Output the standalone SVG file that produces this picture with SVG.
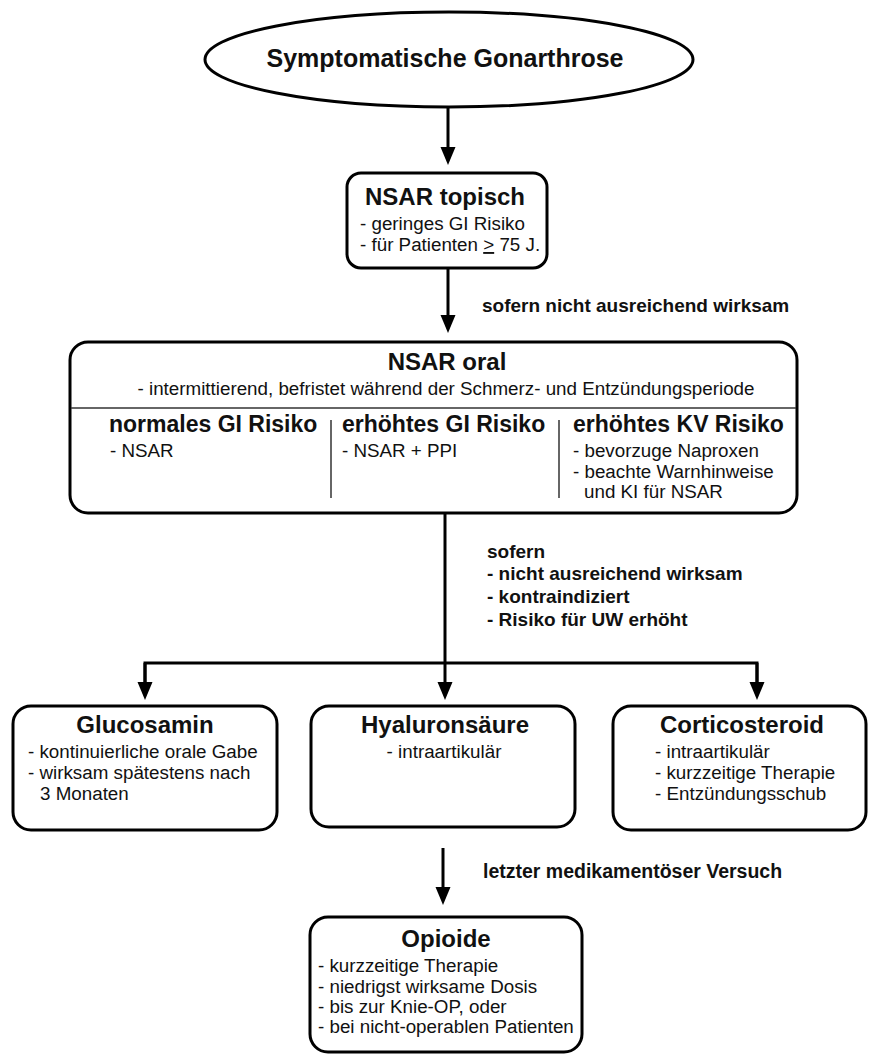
<svg xmlns="http://www.w3.org/2000/svg" width="869" height="1055" viewBox="0 0 869 1055">
<style>
.box{fill:#fff;stroke:#000;stroke-width:3}
.conn{fill:none;stroke:#000;stroke-width:3}
.thin{fill:none;stroke:#333;stroke-width:1.5}
text{font-family:"Liberation Sans",Arial,sans-serif;fill:#111}
.t{font-size:24px;font-weight:bold}
.h{font-size:23px;font-weight:bold}
.r{font-size:18.8px}
.l{font-size:19px;font-weight:bold}
.c{text-anchor:middle}
</style>
<defs>
<marker id="ah" markerUnits="userSpaceOnUse" markerWidth="20" markerHeight="16" refX="8" refY="7.5" orient="auto">
<path d="M0,0 L18,7.5 L0,15 Z" fill="#000"/>
</marker>
</defs>
<rect width="869" height="1055" fill="#fff"/>

<g id="connectors">
<line class="conn" x1="448" y1="107" x2="448" y2="155" marker-end="url(#ah)"/>
<line class="conn" x1="448" y1="268" x2="448" y2="323" marker-end="url(#ah)"/>
<polyline class="conn" points="445,513 445,663"/>
<polyline class="conn" points="145,690 145,663 757,663 757,690"/>
<line class="conn" x1="145" y1="663" x2="145" y2="690" marker-end="url(#ah)"/>
<line class="conn" x1="445" y1="663" x2="445" y2="690" marker-end="url(#ah)"/>
<line class="conn" x1="757" y1="663" x2="757" y2="690" marker-end="url(#ah)"/>
<line class="conn" x1="443" y1="848" x2="443" y2="895" marker-end="url(#ah)"/>
<text class="l" x="482" y="312">sofern nicht ausreichend wirksam</text>
<text class="l" x="487" y="558">sofern</text>
<text class="l" x="487" y="580">- nicht ausreichend wirksam</text>
<text class="l" x="487" y="603">- kontraindiziert</text>
<text class="l" x="487" y="626">- Risiko für UW erhöht</text>
<text class="l" x="483" y="878" style="font-size:19.5px">letzter medikamentöser Versuch</text>
</g>

<g id="start">
<ellipse class="box" cx="449" cy="59.5" rx="244" ry="47.5"/>
<text class="c" x="445" y="67" style="font-size:25px;font-weight:bold">Symptomatische Gonarthrose</text>
</g>

<g id="nsar-topisch">
<rect class="box" x="347" y="173" width="200" height="95" rx="14"/>
<text class="t c" x="445" y="205">NSAR topisch</text>
<text class="r" x="360" y="230">- geringes GI Risiko</text>
<text class="r" x="360" y="251">- für Patienten <tspan text-decoration="underline">&gt;</tspan> 75 J.</text>
</g>

<g id="nsar-oral">
<rect class="box" x="70" y="342" width="727" height="171" rx="18"/>
<text class="t c" x="447" y="370">NSAR oral</text>
<text class="r c" x="446" y="395">- intermittierend, befristet während der Schmerz- und Entzündungsperiode</text>
<line class="thin" x1="71" y1="408" x2="796" y2="408"/>
<line class="thin" x1="331" y1="420" x2="331" y2="498"/>
<line class="thin" x1="559" y1="420" x2="559" y2="498"/>
<text class="h" x="109" y="432">normales GI Risiko</text>
<text class="r" x="110" y="457">- NSAR</text>
<text class="h" x="342" y="432">erhöhtes GI Risiko</text>
<text class="r" x="342" y="457">- NSAR + PPI</text>
<text class="h" x="573" y="432">erhöhtes KV Risiko</text>
<text class="r" x="573" y="457">- bevorzuge Naproxen</text>
<text class="r" x="573" y="478">- beachte Warnhinweise</text>
<text class="r" x="584" y="498">und KI für NSAR</text>
</g>

<g id="glucosamin">
<rect class="box" x="13" y="706" width="264" height="124" rx="18"/>
<text class="t c" x="145" y="733">Glucosamin</text>
<text class="r" x="28" y="758">- kontinuierliche orale Gabe</text>
<text class="r" x="28" y="779">- wirksam spätestens nach</text>
<text class="r" x="40" y="800">3 Monaten</text>
</g>

<g id="hyaluronsaeure">
<rect class="box" x="311" y="706" width="264" height="121" rx="18"/>
<text class="t c" x="445" y="733">Hyaluronsäure</text>
<text class="r c" x="444" y="758">- intraartikulär</text>
</g>

<g id="corticosteroid">
<rect class="box" x="613" y="706" width="253" height="124" rx="18"/>
<text class="t c" x="742" y="733">Corticosteroid</text>
<text class="r" x="655" y="758">- intraartikulär</text>
<text class="r" x="655" y="779">- kurzzeitige Therapie</text>
<text class="r" x="655" y="800">- Entzündungsschub</text>
</g>

<g id="opioide">
<rect class="box" x="310" y="917" width="272" height="135" rx="18"/>
<text class="t c" x="446" y="947">Opioide</text>
<text class="r" x="318" y="972">- kurzzeitige Therapie</text>
<text class="r" x="318" y="993">- niedrigst wirksame Dosis</text>
<text class="r" x="318" y="1013">- bis zur Knie-OP, oder</text>
<text class="r" x="318" y="1033">- bei nicht-operablen Patienten</text>
</g>
</svg>
